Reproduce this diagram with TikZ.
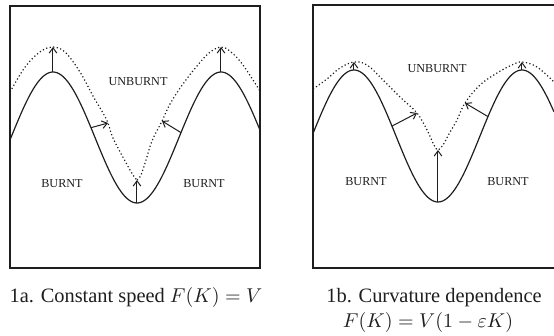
\documentclass[tikz,border=0pt]{standalone}
\usepackage{fontspec}
\setmainfont{Liberation Serif}
\usepackage{amsmath}
\usepackage{tikz}
\usetikzlibrary{arrows.meta}
\definecolor{inkdark}{RGB}{30,30,30}
\tikzset{
  panel/.style={draw=inkdark, line width=0.7pt},
  front/.style={draw=inkdark, line width=0.6pt},
  newfront/.style={draw=inkdark, line width=0.6pt, dash pattern=on 0.6pt off 1.2pt},
  speed/.style={-{Straight Barb[length=2.6pt,width=3.8pt]}, draw=inkdark, line width=0.5pt},
  zone/.style={font=\fontsize{6.1}{7}\selectfont, text=inkdark, inner sep=0pt},
  caption/.style={font=\fontsize{10.2}{12}\selectfont, text=inkdark, inner sep=0pt, anchor=base}
}

\begin{document}
\begin{tikzpicture}[x=0.5pt, y=-0.5pt]
  \useasboundingbox (0,0) rectangle (554,336);

  % panel 1a: constant speed
  \draw[panel] (10,6) rectangle (260,268);
  \draw[front] plot[domain=10:260, samples=120, smooth] (\x,{137.5-65.5*cos((\x-53)*2.142857)});
  \draw[newfront] plot[smooth, tension=0.6] coordinates {(10,92) (23,70) (33,58) (43,50) (53,47)
    (65,52) (80,72) (93,96) (103,113) (108,123) (113,138) (125,161) (133,175) (137,180)};
  \draw[newfront] plot[smooth, tension=0.6] coordinates {(137,180) (141,175) (146,160) (152,141)
    (162,121) (170,104) (183,84) (197,66) (209,53) (221,47) (231,52) (243,65) (260,91)};

  \coordinate (aPkL) at (53,72);     \coordinate (aPkLt) at (53,47);
  \coordinate (aPkR) at (221,72);    \coordinate (aPkRt) at (221,47);
  \coordinate (aFlL) at (91,127.7);  \coordinate (aFlLt) at (108,123);
  \coordinate (aFlR) at (181,132.6); \coordinate (aFlRt) at (162,121);
  \coordinate (aTr) at (137,203);    \coordinate (aTrt) at (137,180);
  \draw[speed] (aPkL) -- (aPkLt);
  \draw[speed] (aPkR) -- (aPkRt);
  \draw[speed] (aFlL) -- (aFlLt);
  \draw[speed] (aFlR) -- (aFlRt);
  \draw[speed] (aTr) -- (aTrt);

  \node[zone] (unbA) at (138,82) {UNBURNT};
  \node[zone] (burntAL) at (62,184) {BURNT};
  \node[zone] (burntAR) at (204,184) {BURNT};
  \node[caption] (capA) at (136,303) {1a. Constant speed $F(K) = V$};

  % panel 1b: curvature dependence
  \draw[panel] (554,5) -- (313,5) -- (313,268) -- (554,268);
  \draw[front] plot[domain=313:554, samples=120, smooth] (\x,{136-66*cos((\x-354)*2.142857)});
  \draw[newfront] plot[smooth, tension=0.6] coordinates {(313,89) (327,79) (340,68) (354,62)
    (367,65) (383,80) (400,97) (417,113) (427,130) (434,145) (438,150) (443,145) (449,134)
    (457,120) (465,103) (480,85) (497,73) (512,65) (522,62) (537,67) (554,82)};

  \coordinate (bPkL) at (354,70);    \coordinate (bPkLt) at (354,62);
  \coordinate (bPkR) at (522,70);    \coordinate (bPkRt) at (522,62);
  \coordinate (bFlL) at (392,126.1); \coordinate (bFlLt) at (417,113);
  \coordinate (bFlR) at (488,116.6); \coordinate (bFlRt) at (465,103);
  \coordinate (bTr) at (438,202);    \coordinate (bTrt) at (438,150);
  \draw[speed] (bPkL) -- (bPkLt);
  \draw[speed] (bPkR) -- (bPkRt);
  \draw[speed] (bFlL) -- (bFlLt);
  \draw[speed] (bFlR) -- (bFlRt);
  \draw[speed] (bTr) -- (bTrt);

  \node[zone] (unbB) at (437,69) {UNBURNT};
  \node[zone] (burntBL) at (366,182) {BURNT};
  \node[zone] (burntBR) at (508,182) {BURNT};
  \node[caption] (capB) at (434,303) {1b. Curvature dependence};
  \node[caption] (capBf) at (428,328) {$F(K) = V(1 - \varepsilon K)$};
\end{tikzpicture}
\end{document}
